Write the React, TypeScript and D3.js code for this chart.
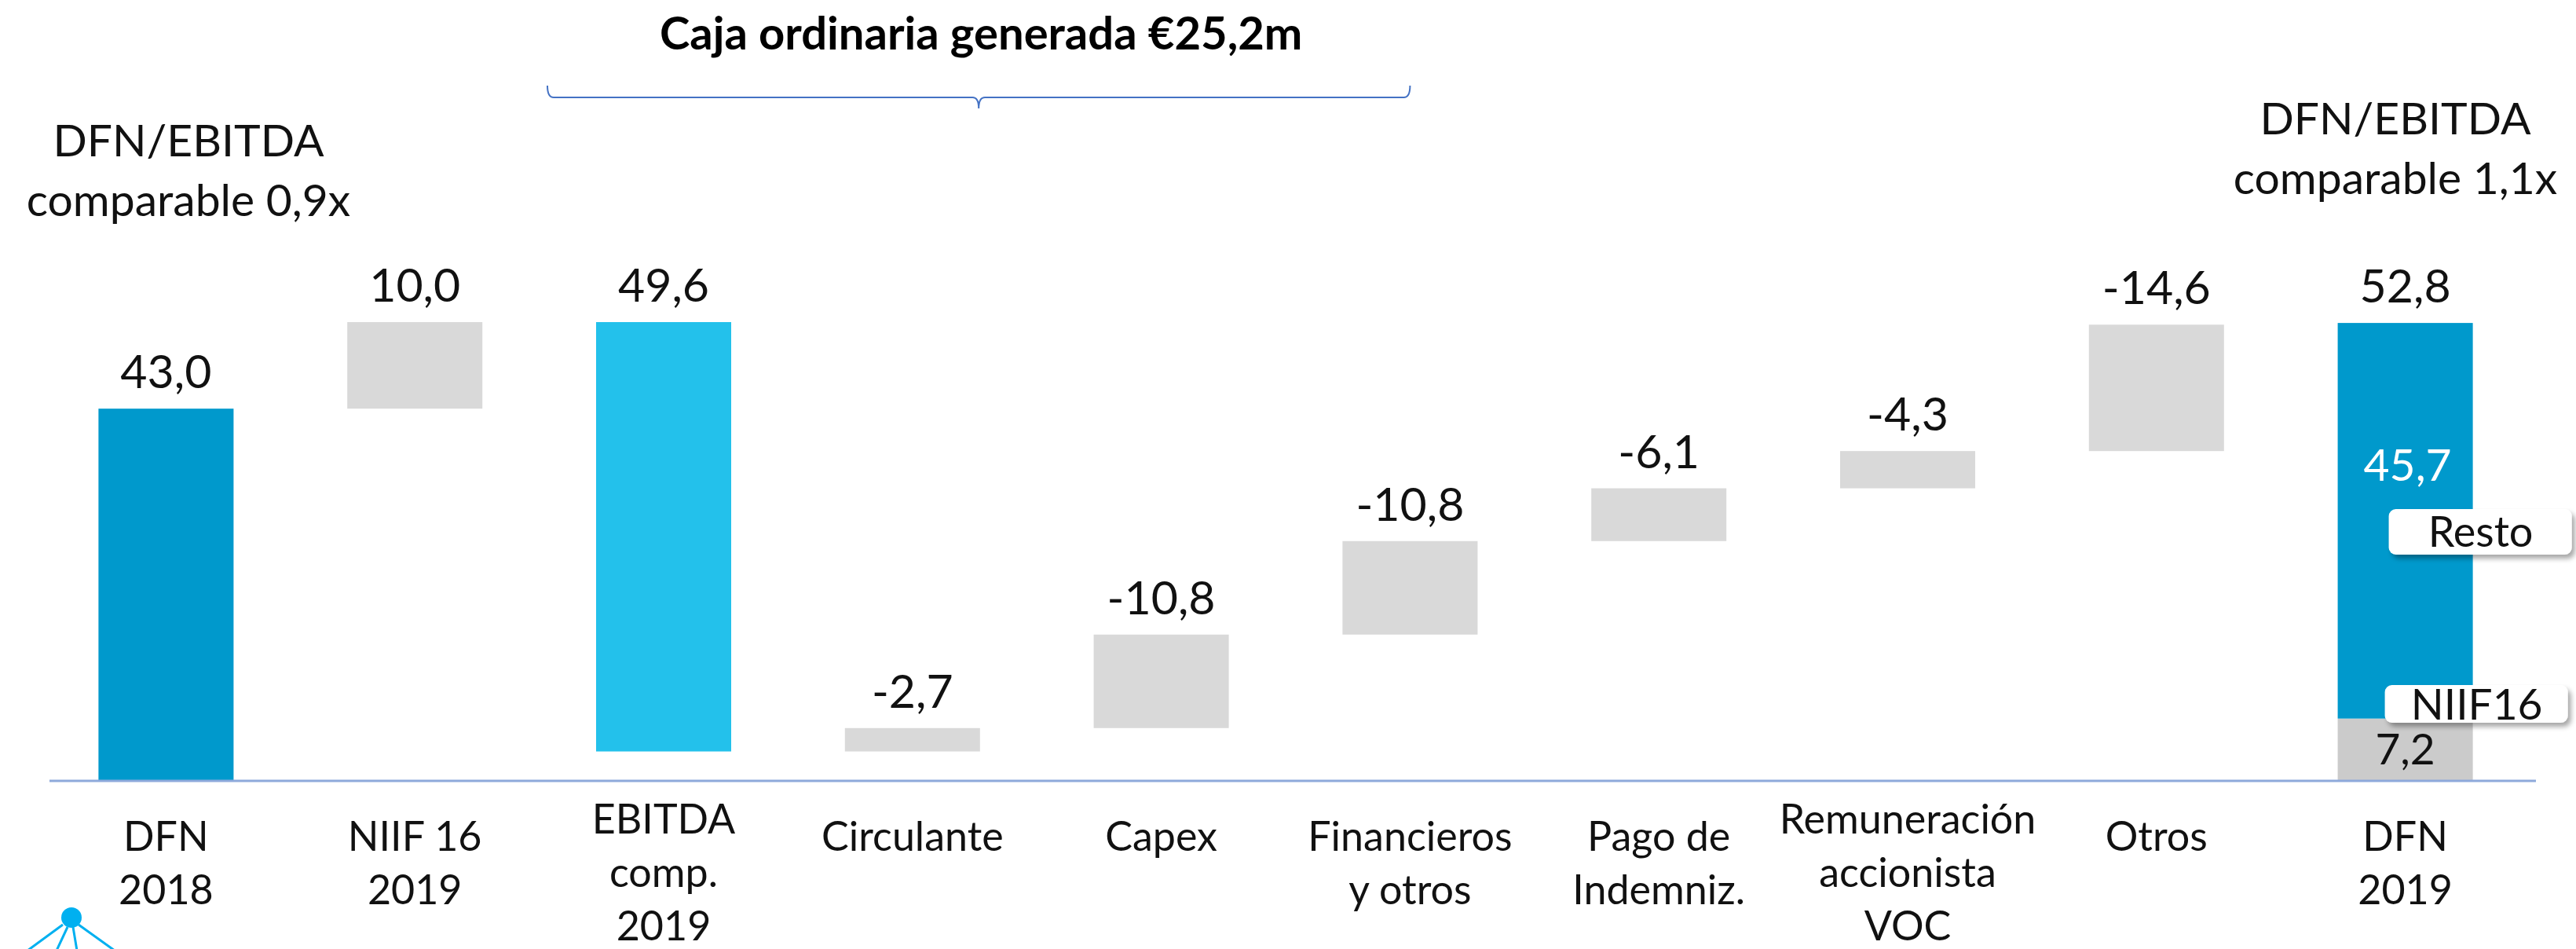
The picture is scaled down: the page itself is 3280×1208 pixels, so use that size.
import { useRef, useEffect } from 'react'
import * as d3 from 'd3'

// waterfall of net debt (DFN) 2018 -> 2019, values in €m
const categories = [
  'DFN\n2018',
  'NIIF 16\n2019',
  'EBITDA\ncomp.\n2019',
  'Circulante',
  'Capex',
  'Financieros\ny otros',
  'Pago de\nIndemniz.',
  'Remuneración\naccionista\nVOC',
  'Otros',
  'DFN\n2019'
]
const barTypes = ['total', 'step', 'ebitda', 'step', 'step', 'step', 'step', 'step', 'step', 'final']
// change applied to the running debt at each step (first one is the opening balance)
const stepValues = [43.0, 10.0, -49.6, 2.7, 10.8, 10.8, 6.1, 4.3, 14.6]
const valueLabels = ['43,0', '10,0', '49,6', '-2,7', '-10,8', '-10,8', '-6,1', '-4,3', '-14,6', '52,8']
// closing bar split: NIIF16 + rest
const finalParts = [7.2, 45.7]
const finalPartNames = ['NIIF16', 'Resto']
const finalPartLabels = ['7,2', '45,7']

const title = 'Caja ordinaria generada €25,2m'
const ratioStart = ['DFN/EBITDA', 'comparable 0,9x']
const ratioEnd = ['DFN/EBITDA', 'comparable 1,1x']

const WIDTH = 3280
const HEIGHT = 1208
const FONT = 'Lato, "Open Sans", sans-serif'

const COLORS = {
  total: '#0099CC',
  ebitda: '#23C1EB',
  step: '#D9D9D9',
  niif: '#CBCBCB',
  axis: '#8EA9DB',
  brace: '#4472C4',
  text: '#111111'
}

export default function App() {
  const svgRef = useRef<SVGSVGElement>(null)

  useEffect(() => {
    if (!svgRef.current) return
    const svg = d3.select(svgRef.current)
    svg.selectAll('*').remove()

    const x = d3.scaleBand<string>()
      .domain(categories)
      .range([53, 3221])
      .paddingInner(0.457)
      .paddingOuter(0.2285)

    const y = d3.scaleLinear()
      .domain([0, 53])
      .range([994, 410])

    const bw = x.bandwidth()
    const cx = (c: string) => (x(c) ?? 0) + bw / 2

    // running totals -> floating bars
    let running = 0
    const bars: { cat: string, type: string, lo: number, hi: number, label: string }[] = []
    categories.forEach((cat, i) => {
      const type = barTypes[i]
      if (type === 'final') {
        const hi = d3.sum(finalParts)
        bars.push({ cat, type, lo: 0, hi, label: valueLabels[i] })
        return
      }
      const start = type === 'total' ? 0 : running
      const end = start + stepValues[i]
      running = end
      bars.push({ cat, type, lo: Math.min(start, end), hi: Math.max(start, end), label: valueLabels[i] })
    })

    const defs = svg.append('defs')
    const shadow = defs.append('filter')
      .attr('id', 'callout-shadow')
      .attr('x', '-10%').attr('y', '-30%')
      .attr('width', '130%').attr('height', '170%')
    shadow.append('feDropShadow')
      .attr('dx', 4).attr('dy', 5)
      .attr('stdDeviation', 3)
      .attr('flood-color', '#000')
      .attr('flood-opacity', 0.35)

    const g = svg.append('g')

    // bars
    bars.forEach(b => {
      if (b.type === 'final') {
        let acc = 0
        finalParts.forEach((v, k) => {
          g.append('rect')
            .attr('x', x(b.cat)!)
            .attr('y', y(acc + v))
            .attr('width', bw)
            .attr('height', y(acc) - y(acc + v))
            .attr('fill', k === 0 ? COLORS.niif : COLORS.total)
          acc += v
        })
        return
      }
      g.append('rect')
        .attr('x', x(b.cat)!)
        .attr('y', y(b.hi))
        .attr('width', bw)
        .attr('height', y(b.lo) - y(b.hi))
        .attr('fill', b.type === 'total' ? COLORS.total : b.type === 'ebitda' ? COLORS.ebitda : COLORS.step)
    })

    // value labels above bars
    g.selectAll('text.value')
      .data(bars)
      .enter()
      .append('text')
      .attr('class', 'value')
      .attr('x', d => cx(d.cat))
      .attr('y', d => y(d.hi) - 26)
      .attr('text-anchor', 'middle')
      .attr('font-family', FONT)
      .attr('font-size', 59)
      .attr('fill', COLORS.text)
      .text(d => d.label)

    // baseline
    g.append('line')
      .attr('x1', 63).attr('x2', 3229)
      .attr('y1', y(0)).attr('y2', y(0))
      .attr('stroke', COLORS.axis)
      .attr('stroke-width', 3)

    // category labels
    categories.forEach(cat => {
      const lines = cat.split('\n')
      const first = lines.length > 2 ? 1061 : 1083
      const t = g.append('text')
        .attr('text-anchor', 'middle')
        .attr('font-family', FONT)
        .attr('font-size', 52)
        .attr('fill', COLORS.text)
      lines.forEach((ln, k) => {
        t.append('tspan')
          .attr('x', cx(cat))
          .attr('y', first + k * 68)
          .text(ln)
      })
    })

    // closing bar: inner labels and callouts
    const last = categories[categories.length - 1]
    const lastX = x(last)!
    g.append('text')
      .attr('x', cx(last))
      .attr('y', y(finalParts[0] / 2) + 19)
      .attr('text-anchor', 'middle')
      .attr('font-family', FONT)
      .attr('font-size', 55)
      .attr('fill', COLORS.text)
      .text(finalPartLabels[0])
    g.append('text')
      .attr('x', cx(last) + 3)
      .attr('y', y(34.7))
      .attr('text-anchor', 'middle')
      .attr('font-family', FONT)
      .attr('font-size', 57)
      .attr('fill', '#ffffff')
      .text(finalPartLabels[1])

    const callouts = [
      { name: finalPartNames[1], x: lastX + 65, top: 648, h: 58, size: 54 },
      { name: finalPartNames[0], x: lastX + 60, top: 872, h: 48, size: 55 }
    ]
    callouts.forEach(c => {
      g.append('rect')
        .attr('x', c.x)
        .attr('y', c.top)
        .attr('width', 233)
        .attr('height', c.h)
        .attr('rx', 9)
        .attr('fill', '#ffffff')
        .attr('filter', 'url(#callout-shadow)')
      g.append('text')
        .attr('x', c.x + 117)
        .attr('y', c.top + c.h / 2 + c.size * 0.36)
        .attr('text-anchor', 'middle')
        .attr('font-family', FONT)
        .attr('font-size', c.size)
        .attr('fill', COLORS.text)
        .text(c.name)
    })

    // DFN/EBITDA ratios
    const ratio = (lines: string[], px: number, py: number) => {
      const t = g.append('text')
        .attr('text-anchor', 'middle')
        .attr('font-family', FONT)
        .attr('font-size', 57)
        .attr('fill', COLORS.text)
      lines.forEach((ln, k) => {
        t.append('tspan').attr('x', px).attr('y', py + k * 76).text(ln)
      })
    }
    ratio(ratioStart, 240, 199)
    ratio(ratioEnd, 3050, 171)

    // brace over EBITDA .. Financieros
    const b0 = x(categories[2])! - 62
    const b1 = cx(categories[5])
    const bm = (b0 + b1) / 2
    const by = 124
    const r = 8
    const brace = d3.path()
    brace.moveTo(b0, by - 15)
    brace.quadraticCurveTo(b0, by, b0 + r, by)
    brace.lineTo(bm - r, by)
    brace.quadraticCurveTo(bm, by, bm, by + 14)
    brace.quadraticCurveTo(bm, by, bm + r, by)
    brace.lineTo(b1 - r, by)
    brace.quadraticCurveTo(b1, by, b1, by - 15)
    g.append('path')
      .attr('d', brace.toString())
      .attr('fill', 'none')
      .attr('stroke', COLORS.brace)
      .attr('stroke-width', 2)

    g.append('text')
      .attr('x', bm + 3)
      .attr('y', 63)
      .attr('text-anchor', 'middle')
      .attr('font-family', FONT)
      .attr('font-size', 58)
      .attr('font-weight', 700)
      .attr('fill', '#000')
      .text(title)

    // small logo in the lower left corner
    const logo = g.append('g').attr('fill', '#00B0F0').attr('stroke', '#00B0F0')
    logo.append('circle').attr('cx', 91).attr('cy', 1168).attr('r', 13).attr('stroke', 'none')
    const legs = [[80, 1177, 35], [86, 1180, 72], [93, 1180, 98], [100, 1177, 146]]
    legs.forEach(([x1, y1, x2]) => {
      logo.append('line')
        .attr('x1', x1).attr('y1', y1)
        .attr('x2', x2).attr('y2', 1210)
        .attr('stroke-width', 3)
    })
  }, [])

  return (
    <svg
      ref={svgRef}
      width={WIDTH}
      height={HEIGHT}
      style={{ position: 'absolute', left: 0, top: 0, background: '#ffffff', display: 'block' }}
    />
  )
}
